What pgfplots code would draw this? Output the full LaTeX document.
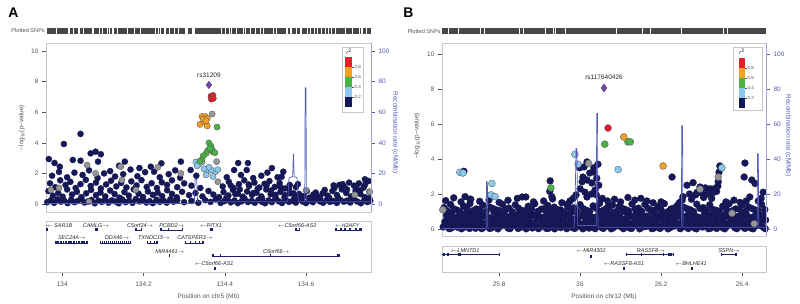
\documentclass[border=0pt]{standalone}
\usepackage{pgfplots}
\pgfplotsset{compat=1.18}
\usepackage{pgfplotstable}
\usepackage{fontspec}
\setmainfont{Liberation Sans}
\setsansfont{Liberation Sans}

\definecolor{navy}{RGB}{22,24,88}
\definecolor{lzred}{RGB}{226,32,38}
\definecolor{lzorange}{RGB}{244,160,36}
\definecolor{lzgreen}{RGB}{72,178,66}
\definecolor{lzblue}{RGB}{138,200,238}
\definecolor{lzpurple}{RGB}{112,72,160}
\definecolor{lzgray}{RGB}{150,150,150}
\definecolor{recomb}{RGB}{84,90,182}
\definecolor{framegray}{RGB}{200,200,200}
\definecolor{textgray}{RGB}{85,85,85}
\definecolor{genec}{RGB}{30,32,110}
\newcommand{\la}{$\leftarrow$}
\newcommand{\ra}{$\rightarrow$}

% ---------------- Panel A data ----------------
\pgfplotstableread[row sep=\\]{x y\\
133.963 0.12\\ 133.972 0.25\\ 133.980 0.08\\ 133.988 0.30\\ 133.997 0.15\\ 134.005 0.22\\ 134.013 0.06\\ 134.022 0.28\\ 134.030 0.12\\ 134.038 0.20\\
134.047 0.33\\ 134.055 0.10\\ 134.064 0.18\\ 134.072 0.27\\ 134.080 0.05\\ 134.089 0.22\\ 134.097 0.14\\ 134.106 0.31\\ 134.114 0.09\\ 134.122 0.24\\
134.131 0.16\\ 134.139 0.05\\ 134.148 0.29\\ 134.156 0.12\\ 134.165 0.21\\ 134.173 0.08\\ 134.181 0.33\\ 134.190 0.17\\ 134.198 0.26\\ 134.207 0.10\\
134.215 0.19\\ 134.223 0.06\\ 134.232 0.28\\ 134.240 0.14\\ 134.249 0.22\\ 134.257 0.09\\ 134.266 0.31\\ 134.274 0.15\\ 134.283 0.24\\ 134.300 0.12\\
134.318 0.20\\ 134.335 0.08\\ 134.352 0.25\\ 134.365 0.14\\ 134.378 0.30\\ 134.390 0.07\\ 134.399 0.19\\ 134.407 0.28\\ 134.415 0.11\\ 134.424 0.23\\
134.432 0.06\\ 134.441 0.17\\ 134.449 0.30\\ 134.457 0.13\\ 134.466 0.21\\ 134.474 0.08\\ 134.483 0.27\\ 134.491 0.15\\ 134.499 0.05\\ 134.508 0.24\\
134.516 0.12\\ 134.525 0.32\\ 134.533 0.18\\ 134.541 0.07\\ 134.550 0.26\\ 134.558 0.14\\ 134.567 0.21\\ 134.575 0.09\\ 134.583 0.29\\ 134.592 0.16\\
134.600 0.06\\ 134.609 0.23\\ 134.617 0.12\\ 134.625 0.31\\ 134.634 0.18\\ 134.642 0.08\\ 134.651 0.25\\ 134.659 0.14\\ 134.667 0.20\\ 134.676 0.07\\
134.684 0.28\\ 134.693 0.15\\ 134.701 0.22\\ 134.709 0.10\\ 134.718 0.30\\ 134.726 0.17\\ 134.735 0.05\\ 134.743 0.24\\ 134.751 0.13\\ 134.758 0.21\\
133.966 0.85\\ 133.977 0.55\\ 133.990 0.72\\ 134.001 0.48\\ 134.012 0.95\\ 134.024 0.62\\ 134.036 0.80\\ 134.047 0.45\\ 134.059 0.70\\ 134.071 0.92\\
134.083 0.58\\ 134.094 0.75\\ 134.106 0.50\\ 134.118 0.88\\ 134.129 0.65\\ 134.141 0.42\\ 134.153 0.78\\ 134.164 0.55\\ 134.176 0.96\\ 134.188 0.68\\
134.199 0.46\\ 134.211 0.82\\ 134.223 0.60\\ 134.235 0.74\\ 134.246 0.52\\ 134.258 0.90\\ 134.270 0.66\\ 134.282 0.44\\ 134.295 0.80\\ 134.312 0.58\\
134.328 0.72\\ 134.345 0.50\\ 134.360 0.85\\ 134.372 0.62\\ 134.386 0.45\\ 134.397 0.78\\ 134.409 0.56\\ 134.420 0.92\\ 134.432 0.68\\ 134.444 0.48\\
134.455 0.82\\ 134.467 0.60\\ 134.478 0.74\\ 134.490 0.50\\ 134.502 0.95\\ 134.513 0.64\\ 134.525 0.42\\ 134.537 0.80\\ 134.548 0.58\\ 134.560 0.70\\
134.572 0.46\\ 134.583 0.66\\ 134.595 0.52\\ 134.607 0.40\\ 134.618 0.62\\ 134.630 0.48\\ 134.641 0.70\\ 134.653 0.55\\ 134.665 0.85\\ 134.676 0.60\\
134.688 0.95\\ 134.699 0.72\\ 134.711 0.50\\ 134.722 0.88\\ 134.734 0.65\\ 134.745 0.45\\ 134.756 0.80\\
133.970 1.35\\ 133.983 1.10\\ 133.995 1.55\\ 134.008 1.25\\ 134.020 1.45\\ 134.033 1.05\\ 134.045 1.30\\ 134.058 1.58\\ 134.070 1.18\\ 134.083 1.40\\
134.095 1.02\\ 134.108 1.28\\ 134.120 1.52\\ 134.133 1.15\\ 134.145 1.38\\ 134.158 1.08\\ 134.170 1.48\\ 134.183 1.22\\ 134.195 1.56\\ 134.208 1.12\\
134.220 1.36\\ 134.233 1.05\\ 134.245 1.42\\ 134.258 1.25\\ 134.270 1.55\\ 134.283 1.10\\ 134.300 1.35\\ 134.318 1.20\\ 134.340 1.05\\ 134.395 1.15\\
134.410 1.45\\ 134.422 1.05\\ 134.435 1.30\\ 134.448 1.55\\ 134.460 1.18\\ 134.473 1.40\\ 134.485 1.08\\ 134.498 1.32\\ 134.510 1.50\\ 134.523 1.12\\
134.535 1.38\\ 134.548 1.02\\ 134.560 1.25\\ 134.575 1.10\\ 134.670 1.05\\ 134.682 1.25\\ 134.694 1.12\\ 134.706 1.40\\ 134.718 1.20\\ 134.730 1.35\\
134.742 1.08\\ 134.754 1.50\\
133.975 1.85\\ 133.992 2.10\\ 134.012 1.75\\ 134.030 2.05\\ 134.050 1.90\\ 134.066 2.20\\ 134.087 1.70\\ 134.103 2.00\\ 134.118 2.15\\ 134.130 1.80\\
134.150 1.95\\ 134.168 2.25\\ 134.185 1.82\\ 134.204 2.08\\ 134.226 2.11\\ 134.240 1.75\\ 134.262 1.95\\ 134.278 2.20\\ 134.290 1.72\\ 134.316 2.22\\
134.330 1.85\\ 134.405 1.75\\ 134.423 2.22\\ 134.440 1.90\\ 134.454 2.22\\ 134.470 1.70\\ 134.490 1.85\\ 134.505 2.05\\ 134.516 2.35\\ 134.530 1.75\\
134.544 2.11\\ 134.540 1.78\\ 134.745 1.62\\
134.045 4.58\\ 134.004 3.92\\ 133.967 2.94\\ 134.070 3.31\\ 134.082 3.42\\ 134.095 3.25\\ 133.994 2.44\\ 133.981 2.68\\ 134.026 2.88\\ 134.045 2.83\\
134.088 2.77\\ 134.154 2.77\\ 134.218 2.44\\ 134.244 2.66\\ 134.292 2.77\\ 134.433 2.68\\ 134.457 2.68\\ 134.140 2.50\\ 134.190 2.35\\
134.404 0.40\\ 134.415 1.20\\ 134.426 0.65\\ 134.437 0.95\\ 134.448 0.38\\ 134.459 1.28\\ 134.470 0.72\\ 134.481 1.00\\ 134.492 0.35\\ 134.503 1.22\\
134.514 0.88\\ 134.525 0.60\\ 134.536 1.15\\ 134.547 0.42\\ 134.558 0.98\\ 134.569 0.70\\ 134.580 1.30\\ 134.591 0.38\\ 134.602 0.85\\ 134.613 0.45\\
134.624 0.75\\ 134.635 0.36\\ 134.646 0.92\\ 134.657 0.42\\ 134.668 1.22\\ 134.679 0.40\\ 134.690 1.30\\ 134.701 0.95\\ 134.712 0.38\\ 134.723 1.15\\
134.734 0.90\\ 134.745 1.25\\ 134.756 0.38\\
}\Anavy
\pgfplotstableread[row sep=\\]{x y\\
133.972 0.92\\ 133.992 1.05\\ 134.061 2.55\\ 134.066 0.15\\ 134.082 2.00\\ 134.144 2.44\\ 134.147 1.57\\ 134.181 0.92\\ 134.292 2.00\\ 134.383 1.46\\
134.380 2.77\\ 134.369 5.88\\ 134.235 2.40\\ 134.600 0.90\\ 134.720 0.60\\ 134.757 0.80\\
}\Agray
\pgfplotstableread[row sep=\\]{x y\\
134.329 2.75\\ 134.344 2.75\\ 134.336 2.60\\ 134.357 2.10\\ 134.354 1.90\\ 134.376 2.10\\ 134.366 2.25\\ 134.332 2.50\\ 134.361 2.40\\ 134.371 1.80\\
134.349 2.30\\ 134.383 2.25\\
}\Ablue
\pgfplotstableread[row sep=\\]{x y\\
134.381 5.03\\ 134.361 4.00\\ 134.366 3.80\\ 134.358 3.50\\ 134.371 3.40\\ 134.354 3.30\\ 134.347 3.15\\ 134.369 3.55\\ 134.376 3.35\\ 134.344 2.90\\
134.339 2.80\\ 134.364 3.65\\
}\Agreen
\pgfplotstableread[row sep=\\]{x y\\
134.344 5.72\\ 134.352 5.72\\ 134.357 5.60\\ 134.339 5.20\\ 134.349 5.38\\ 134.357 5.10\\ 134.347 5.55\\ 134.354 5.45\\
}\Aorange
\pgfplotstableread[row sep=\\]{x y\\
134.366 7.05\\ 134.369 6.95\\ 134.371 7.10\\ 134.367 6.85\\ 134.372 6.90\\
}\Ared

% ---------------- Panel B data ----------------
\pgfplotstableread[row sep=\\]{x y\\
25.662 .12\\ 25.672 .22\\ 25.682 .06\\ 25.692 .18\\ 25.702 .25\\ 25.712 .09\\ 25.722 .15\\ 25.732 .20\\ 25.742 .04\\ 25.752 .17\\
25.762 .10\\ 25.772 .24\\ 25.782 .07\\ 25.792 .19\\ 25.802 .13\\ 25.812 .23\\ 25.822 .05\\ 25.832 .16\\ 25.842 .21\\ 25.852 .09\\
25.862 .14\\ 25.872 .25\\ 25.882 .06\\ 25.892 .18\\ 25.902 .11\\ 25.912 .22\\ 25.922 .04\\ 25.932 .17\\ 25.942 .20\\ 25.952 .08\\
25.962 .15\\ 25.972 .24\\ 25.982 .07\\ 25.992 .19\\ 26.002 .12\\ 26.012 .23\\ 26.022 .05\\ 26.032 .16\\ 26.042 .21\\ 26.052 .10\\
26.062 .13\\ 26.072 .25\\ 26.082 .08\\ 26.092 .18\\ 26.102 .11\\ 26.112 .22\\ 26.122 .06\\ 26.132 .17\\ 26.142 .20\\ 26.152 .09\\
26.162 .14\\ 26.172 .24\\ 26.182 .05\\ 26.192 .19\\ 26.202 .12\\ 26.212 .23\\ 26.222 .07\\ 26.232 .16\\ 26.242 .21\\ 26.252 .10\\
26.262 .15\\ 26.272 .25\\ 26.282 .06\\ 26.292 .18\\ 26.302 .11\\ 26.312 .22\\ 26.322 .04\\ 26.332 .17\\ 26.342 .20\\ 26.352 .08\\
26.362 .14\\ 26.372 .24\\ 26.382 .07\\ 26.392 .19\\ 26.402 .12\\ 26.412 .23\\ 26.422 .05\\ 26.432 .16\\ 26.442 .21\\ 26.452 .10\\
25.666 .42\\ 25.678 .55\\ 25.690 .33\\ 25.702 .48\\ 25.714 .60\\ 25.726 .37\\ 25.738 .51\\ 25.750 .45\\ 25.762 .31\\ 25.774 .58\\
25.786 .40\\ 25.798 .53\\ 25.810 .35\\ 25.822 .47\\ 25.834 .59\\ 25.846 .38\\ 25.858 .50\\ 25.870 .44\\ 25.882 .32\\ 25.894 .56\\
25.906 .41\\ 25.918 .54\\ 25.930 .34\\ 25.942 .49\\ 25.954 .60\\ 25.966 .36\\ 25.978 .52\\ 25.990 .43\\ 26.002 .30\\ 26.014 .57\\
26.026 .42\\ 26.038 .55\\ 26.050 .33\\ 26.062 .48\\ 26.074 .60\\ 26.086 .37\\ 26.098 .51\\ 26.110 .45\\ 26.122 .31\\ 26.134 .58\\
26.146 .40\\ 26.158 .53\\ 26.170 .35\\ 26.182 .47\\ 26.194 .59\\ 26.206 .38\\ 26.218 .50\\ 26.230 .44\\ 26.242 .32\\ 26.254 .56\\
26.266 .41\\ 26.278 .54\\ 26.290 .34\\ 26.302 .49\\ 26.314 .60\\ 26.326 .36\\ 26.338 .52\\ 26.350 .43\\ 26.362 .30\\ 26.374 .57\\
26.386 .42\\ 26.398 .55\\ 26.410 .33\\ 26.422 .48\\ 26.434 .60\\ 26.446 .37\\ 26.458 .51\\
25.670 .78\\ 25.683 .92\\ 25.696 .68\\ 25.709 .85\\ 25.722 .99\\ 25.735 .72\\ 25.748 .88\\ 25.761 .81\\ 25.774 .66\\ 25.787 .95\\
25.800 .75\\ 25.813 .90\\ 25.826 .70\\ 25.839 .83\\ 25.852 .97\\ 25.865 .73\\ 25.878 .87\\ 25.891 .80\\ 25.904 .67\\ 25.917 .94\\
25.930 .77\\ 25.943 .91\\ 25.956 .69\\ 25.969 .84\\ 25.982 .98\\ 25.995 .71\\ 26.008 .89\\ 26.021 .82\\ 26.034 .65\\ 26.047 .96\\
26.060 .76\\ 26.073 .93\\ 26.086 .68\\ 26.099 .86\\ 26.112 .99\\ 26.125 .74\\ 26.138 .88\\ 26.151 .79\\ 26.164 .66\\ 26.177 .95\\
26.190 .78\\ 26.203 .90\\ 26.216 .70\\ 26.229 .85\\ 26.242 .97\\ 26.255 .72\\ 26.268 .87\\ 26.281 .81\\ 26.294 .67\\ 26.307 .94\\
26.320 .77\\ 26.333 .92\\ 26.346 .69\\ 26.359 .84\\ 26.372 .98\\ 26.385 .71\\ 26.398 .89\\ 26.411 .82\\ 26.424 .65\\ 26.437 .96\\
26.450 .76\\
25.664 1.22\\ 25.680 1.40\\ 25.696 1.08\\ 25.712 1.31\\ 25.728 1.45\\ 25.744 1.15\\ 25.760 1.36\\ 25.776 1.26\\ 25.792 1.10\\ 25.808 1.42\\
25.824 1.20\\ 25.840 1.38\\ 25.856 1.06\\ 25.872 1.30\\ 25.888 1.44\\ 25.904 1.13\\ 25.920 1.35\\ 25.936 1.25\\ 25.952 1.09\\ 25.968 1.41\\
25.984 1.21\\ 26.000 1.39\\ 26.016 1.07\\ 26.032 1.32\\ 26.048 1.46\\ 26.064 1.16\\ 26.080 1.37\\ 26.096 1.27\\ 26.112 1.11\\ 26.128 1.43\\
26.144 1.19\\ 26.160 1.40\\ 26.176 1.08\\ 26.192 1.29\\ 26.208 1.45\\ 26.224 1.14\\ 26.240 1.34\\ 26.256 1.24\\ 26.272 1.10\\ 26.288 1.42\\
26.304 1.22\\ 26.320 1.38\\ 26.336 1.07\\ 26.352 1.30\\ 26.368 1.44\\ 26.384 1.15\\ 26.400 1.36\\ 26.416 1.26\\ 26.432 1.09\\ 26.448 1.41\\
25.668 1.62\\ 25.688 1.78\\ 25.706 1.55\\ 25.730 1.70\\ 25.752 1.58\\ 25.775 1.66\\ 25.800 1.52\\ 25.822 1.64\\ 25.845 1.75\\ 25.866 1.83\\
25.885 1.55\\ 25.910 1.60\\ 25.932 1.72\\ 25.955 1.50\\ 25.975 1.60\\ 26.055 1.75\\ 26.068 1.60\\ 26.085 1.70\\ 26.100 1.55\\ 26.118 1.80\\
26.135 1.65\\ 26.150 1.75\\ 26.165 1.60\\ 26.180 1.50\\ 26.200 1.55\\ 26.360 1.55\\ 26.380 1.65\\ 26.395 1.52\\ 26.410 1.60\\ 26.440 1.60\\
25.713 3.30\\ 25.716 1.85\\ 25.728 1.70\\ 25.857 1.83\\ 25.926 2.75\\ 25.925 2.15\\ 25.930 1.85\\
26.017 3.83\\ 26.010 3.55\\ 25.999 3.50\\ 26.034 3.50\\ 26.034 3.26\\ 26.044 3.70\\ 26.007 2.97\\ 26.017 2.80\\ 26.005 2.70\\ 26.029 2.63\\
26.037 2.23\\ 26.017 1.83\\ 26.024 3.20\\ 26.041 2.90\\ 26.046 2.50\\ 26.000 2.30\\ 26.012 2.10\\ 26.028 2.00\\ 26.040 1.95\\ 25.990 1.95\\
25.983 1.75\\ 26.052 1.70\\ 25.970 1.26\\ 26.069 1.26\\ 26.067 1.10\\
26.227 2.97\\ 26.407 3.77\\ 26.405 2.97\\ 26.424 2.80\\ 26.432 2.60\\ 26.419 1.83\\ 26.452 2.10\\ 26.447 1.75\\
26.345 3.60\\ 26.343 3.25\\ 26.341 2.70\\ 26.340 2.45\\ 26.337 2.15\\
26.264 2.50\\ 26.279 2.65\\ 26.289 2.10\\ 26.296 2.40\\ 26.309 2.35\\ 26.321 2.30\\ 26.333 2.32\\ 26.254 1.85\\ 26.252 1.65\\ 26.270 2.00\\
26.285 1.95\\ 26.300 2.05\\ 26.315 2.00\\ 26.330 2.10\\ 26.325 1.75\\ 26.305 1.80\\ 26.275 1.70\\ 26.245 1.50\\
25.667 .30\\ 25.677 .02\\ 25.687 .33\\ 25.697 .10\\ 25.707 .01\\ 25.717 .31\\ 25.727 .03\\ 25.737 .34\\ 25.747 .27\\ 25.757 .02\\
25.767 .32\\ 25.777 .03\\ 25.787 .29\\ 25.797 .01\\ 25.807 .35\\ 25.817 .30\\ 25.827 .02\\ 25.837 .33\\ 25.847 .03\\ 25.857 .29\\
25.867 .01\\ 25.877 .34\\ 25.887 .31\\ 25.897 .02\\ 25.907 .33\\ 25.917 .03\\ 25.927 .30\\ 25.937 .01\\ 25.947 .35\\ 25.957 .28\\
25.967 .02\\ 25.977 .33\\ 25.987 .03\\ 25.997 .31\\ 26.007 .01\\ 26.017 .34\\ 26.027 .30\\ 26.037 .02\\ 26.047 .33\\ 26.057 .03\\
26.067 .29\\ 26.077 .01\\ 26.087 .35\\ 26.097 .31\\ 26.107 .02\\ 26.117 .33\\ 26.127 .03\\ 26.137 .30\\ 26.147 .01\\ 26.157 .34\\
26.167 .28\\ 26.177 .02\\ 26.187 .33\\ 26.197 .03\\ 26.207 .31\\ 26.217 .01\\ 26.227 .35\\ 26.237 .30\\ 26.247 .02\\ 26.257 .33\\
26.267 .03\\ 26.277 .29\\ 26.287 .01\\ 26.297 .34\\ 26.307 .31\\ 26.317 .02\\ 26.327 .33\\ 26.337 .03\\ 26.347 .30\\ 26.357 .01\\
26.367 .35\\ 26.377 .28\\ 26.387 .02\\ 26.397 .33\\ 26.407 .03\\ 26.417 .31\\ 26.427 .01\\ 26.437 .34\\ 26.447 .30\\ 26.457 .02\\
25.672 .66\\ 25.684 .74\\ 25.696 .58\\ 25.708 .70\\ 25.720 .62\\ 25.732 .76\\ 25.744 .56\\ 25.756 .68\\ 25.768 .72\\ 25.780 .60\\
25.792 .66\\ 25.804 .74\\ 25.816 .58\\ 25.828 .70\\ 25.840 .62\\ 25.852 .76\\ 25.864 .56\\ 25.876 .68\\ 25.888 .72\\ 25.900 .60\\
25.912 .66\\ 25.924 .74\\ 25.936 .58\\ 25.948 .70\\ 25.960 .62\\ 25.972 .76\\ 25.984 .56\\ 25.996 .68\\ 26.008 .72\\ 26.020 .60\\
26.032 .66\\ 26.044 .74\\ 26.056 .58\\ 26.068 .70\\ 26.080 .62\\ 26.092 .76\\ 26.104 .56\\ 26.116 .68\\ 26.128 .72\\ 26.140 .60\\
26.152 .66\\ 26.164 .74\\ 26.176 .58\\ 26.188 .70\\ 26.200 .62\\ 26.212 .76\\ 26.224 .56\\ 26.236 .68\\ 26.248 .72\\ 26.260 .60\\
26.272 .66\\ 26.284 .74\\ 26.296 .58\\ 26.308 .70\\ 26.320 .62\\ 26.332 .76\\ 26.344 .56\\ 26.356 .68\\ 26.368 .72\\ 26.380 .60\\
26.392 .66\\ 26.404 .74\\ 26.416 .58\\ 26.428 .70\\ 26.440 .62\\ 26.452 .76\\
25.672 1.02\\ 25.688 1.15\\ 25.704 0.98\\ 25.720 1.20\\ 25.736 1.05\\ 25.752 1.12\\ 25.768 1.00\\ 25.784 1.18\\ 25.800 1.06\\ 25.816 1.14\\
25.832 0.99\\ 25.848 1.19\\ 25.864 1.04\\ 25.880 1.13\\ 25.896 1.01\\ 25.912 1.17\\ 25.928 1.07\\ 25.944 1.11\\ 25.960 0.98\\ 25.976 1.20\\
25.992 1.03\\ 26.008 1.16\\ 26.024 1.00\\ 26.040 1.18\\ 26.056 1.05\\ 26.072 1.12\\ 26.088 0.99\\ 26.104 1.19\\ 26.120 1.04\\ 26.136 1.14\\
26.152 1.01\\ 26.168 1.17\\ 26.184 1.06\\ 26.200 1.11\\ 26.216 0.98\\ 26.232 1.20\\ 26.248 1.03\\ 26.264 1.16\\ 26.280 1.00\\ 26.296 1.18\\
26.312 1.05\\ 26.328 1.12\\ 26.344 0.99\\ 26.360 1.19\\ 26.376 1.04\\ 26.392 1.14\\ 26.408 1.01\\ 26.424 1.17\\ 26.440 1.06\\ 26.456 1.11\\
}\Bnavy
\pgfplotstableread[row sep=\\]{x y\\
25.661 1.10\\ 26.296 2.28\\ 26.341 2.97\\ 26.375 0.90\\ 26.021 3.75\\ 26.430 0.30\\
}\Bgray
\pgfplotstableread[row sep=\\]{x y\\
25.703 3.24\\ 25.711 3.20\\ 25.782 2.60\\ 25.780 1.95\\ 25.790 1.85\\ 25.987 4.27\\ 25.995 3.70\\ 26.094 3.40\\ 26.350 3.50\\
}\Bblue
\pgfplotstableread[row sep=\\]{x y\\
25.928 2.35\\ 26.061 4.85\\ 26.118 4.98\\ 26.124 4.98\\
}\Bgreen
\pgfplotstableread[row sep=\\]{x y\\
26.108 5.26\\ 26.205 3.60\\
}\Borange
\pgfplotstableread[row sep=\\]{x y\\
26.069 5.77\\
}\Bred

\pgfplotsset{
 lzbase/.style={anchor=south west, scale only axis, axis line style={framegray,line width=0.6pt},
   tick align=outside, major tick length=4pt, tick style={textgray,line width=0.5pt},
   tick label style={font=\fontsize{6.5}{7}\selectfont, text=textgray},
   label style={font=\fontsize{6.5}{7}\selectfont, text=textgray},
   /pgf/number format/assume math mode=true},
 navyp/.style={only marks, mark=*, mark size=#1, mark options={fill=navy, draw=navy!80!black, line width=0.2pt}},
 colp/.style 2 args={only marks, mark=*, mark size=#2, mark options={fill=#1, draw=black!65, line width=0.35pt}},
 rug/.style={only marks, mark=|, mark size=3pt, mark options={draw=black!72, line width=1.3pt}, forget plot},
 gene/.style={genec, line width=0.5pt, forget plot},
 exon/.style={only marks, mark=|, mark size=1.5pt, mark options={draw=genec, line width=1.1pt}, forget plot},
}
\tikzset{glab/.style={font=\fontsize{5.5}{6}\selectfont\itshape, text=black!85, anchor=center, inner sep=0pt}}

\begin{document}
\begin{tikzpicture}
\path[use as bounding box] (0pt,0pt) rectangle (800pt,304pt);

% ================= PANEL A =================
\node[font=\fontsize{14}{14}\selectfont\bfseries] at (13.5pt,291pt) {A};
\node[anchor=east, font=\fontsize{5.6}{6}\selectfont, text=textgray, inner sep=0pt] at (45pt,273pt) {Plotted SNPs};

\begin{axis}[at={(46pt,270pt)}, anchor=south west, scale only axis, width=325pt, height=6pt,
  xmin=133.96, xmax=134.76, ymin=0, ymax=1, hide axis]
\addplot[rug] table[x=x, y expr=0.5] {\Anavy};
\addplot[rug] table[x=x, y expr=0.5] {\Agray};
\addplot[rug] table[x=x, y expr=0.5] {\Ablue};
\addplot[rug] table[x=x, y expr=0.5] {\Agreen};
\addplot[rug] table[x=x, y expr=0.5] {\Aorange};
\addplot[rug] table[x=x, y expr=0.5] {\Ared};
\end{axis}

\begin{axis}[lzbase, at={(46pt,92pt)}, width=325pt, height=169pt,
  xmin=133.96, xmax=134.76, ymin=-0.52, ymax=10.52,
  xtick=\empty, ytick={0,2,4,6,8,10}, ytick pos=left,
  ylabel={−log\textsubscript{10}(p−value)},
  ylabel style={at={(axis description cs:-0.075,0.5)}, anchor=center}]
\addplot[navyp=3.1pt] table {\Anavy};
\addplot[colp={lzgray}{3.1pt}] table {\Agray};
\addplot[colp={lzblue}{3.1pt}] table {\Ablue};
\addplot[colp={lzgreen}{3.1pt}] table {\Agreen};
\addplot[colp={lzorange}{3.1pt}] table {\Aorange};
\addplot[colp={lzred}{3.1pt}] table {\Ared};
\addplot[only marks, mark=diamond*, mark size=3.8pt, mark options={fill=lzpurple, draw=lzpurple!70!black, line width=0.3pt}] coordinates {(134.361,7.78)};
\node[font=\fontsize{6.5}{7}\selectfont, text=black!85] at (axis cs:134.361,8.42) {rs31209};
\end{axis}

\begin{axis}[lzbase, at={(46pt,92pt)}, width=325pt, height=169pt,
  xmin=133.96, xmax=134.76, ymin=-5.2, ymax=105.2,
  axis x line=none, axis y line*=right, axis line style={recomb!55, line width=0.6pt},
  ytick={0,20,40,60,80,100}, tick style={recomb}, yticklabel style={text=recomb},
  ylabel={Recombination rate (cM/Mb)},
  ylabel style={text=recomb, at={(axis description cs:1.074,0.47)}, anchor=center, rotate=180}]
\addplot[recomb, line width=0.7pt] coordinates {(133.960,0.4) (134.325,0.4) (134.327,16) (134.331,16) (134.333,1.5) (134.555,1.5) (134.558,17) (134.567,18) (134.569,33) (134.571,18) (134.578,17) (134.581,1.5) (134.597,1.5) (134.598,76) (134.600,76) (134.601,1.5) (134.760,1.5)};
\end{axis}

\begin{axis}[lzbase, at={(46pt,32pt)}, width=325pt, height=51pt,
  xmin=133.96, xmax=134.76, ymin=0, ymax=51, ytick=\empty,
  xtick={134,134.2,134.4,134.6}, xticklabels={134,134.2,134.4,134.6}, xtick pos=bottom,
  xticklabel style={yshift=-2.5pt},
  xlabel={Position on chr5 (Mb)}, clip=false]
% row 1
\addplot[gene] coordinates {(133.960,42) (133.965,42)};
\addplot[gene] coordinates {(134.081,42) (134.088,42)};
\addplot[gene] coordinates {(134.179,42) (134.196,42)};
\addplot[gene] coordinates {(134.241,42) (134.297,42)};
\addplot[gene] coordinates {(134.364,42) (134.371,42)};
\addplot[gene] coordinates {(134.573,42) (134.586,42)};
\addplot[gene] coordinates {(134.672,42) (134.738,42)};
\addplot[exon] coordinates {(133.961,42) (133.963,42) (134.082,42) (134.084,42) (134.087,42) (134.181,42) (134.183,42) (134.194,42) (134.242,42) (134.244,42) (134.262,42) (134.295,42) (134.296,42)
 (134.365,42) (134.367,42) (134.369,42) (134.370,42) (134.574,42) (134.576,42) (134.584,42) (134.585,42)
 (134.673,42) (134.675,42) (134.685,42) (134.687,42) (134.696,42) (134.698,42) (134.707,42) (134.709,42) (134.721,42) (134.723,42) (134.733,42) (134.735,42) (134.737,42)};
% row 2
\addplot[gene] coordinates {(133.982,29) (134.063,29)};
\addplot[gene] coordinates {(134.093,29) (134.169,29)};
\addplot[gene] coordinates {(134.209,29) (134.236,29)};
\addplot[gene] coordinates {(134.302,29) (134.349,29)};
\addplot[exon] coordinates {(133.983,29) (133.987,29) (133.991,29) (133.995,29) (133.999,29) (134.003,29) (134.007,29) (134.011,29) (134.015,29) (134.019,29) (134.023,29) (134.027,29) (134.031,29) (134.035,29) (134.039,29) (134.043,29) (134.047,29) (134.051,29) (134.055,29) (134.059,29) (134.062,29)
 (134.094,29) (134.099,29) (134.104,29) (134.109,29) (134.114,29) (134.119,29) (134.124,29) (134.129,29) (134.134,29) (134.139,29) (134.144,29) (134.149,29) (134.154,29) (134.159,29) (134.164,29) (134.168,29)
 (134.210,29) (134.218,29) (134.226,29) (134.233,29) (134.235,29)
 (134.303,29) (134.315,29) (134.327,29) (134.338,29) (134.346,29) (134.348,29)};
% row 3
\addplot[gene] coordinates {(134.369,16) (134.684,16)};
\addplot[exon] coordinates {(134.263,16) (134.370,16) (134.372,16) (134.389,16) (134.513,16) (134.677,16) (134.681,16) (134.683,16)};
% row 4
\addplot[exon] coordinates {(134.376,3) (134.377,3)};
\node[glab] at (axis cs:133.993,46.5) {\la\,SAR1B};
\node[glab] at (axis cs:134.083,46.5) {CAMLG\ra};
\node[glab] at (axis cs:134.192,46.5) {C5orf24\ra};
\node[glab] at (axis cs:134.270,46.5) {PCBD2\ra};
\node[glab] at (axis cs:134.366,46.5) {\la PITX1};
\node[glab] at (axis cs:134.578,46.5) {\la C5orf66-AS2};
\node[glab] at (axis cs:134.701,46.5) {\la H2AFY};
\node[glab] at (axis cs:134.024,34) {SEC24A\ra};
\node[glab] at (axis cs:134.135,34) {DDX46\ra};
\node[glab] at (axis cs:134.226,34) {TXNDC15\ra};
\node[glab] at (axis cs:134.327,34) {CATSPER3\ra};
\node[glab] at (axis cs:134.265,20.5) {MIR4461\ra};
\node[glab] at (axis cs:134.527,20.5) {C5orf66\ra};
\node[glab] at (axis cs:134.374,8) {\la C5orf66-AS1};
\end{axis}

% legend A
\draw[framegray, fill=white, line width=0.5pt] (342pt,192pt) rectangle (363pt,257pt);
\fill[lzred] (345pt,237pt) rectangle (352pt,247pt);
\fill[lzorange] (345pt,227pt) rectangle (352pt,237pt);
\fill[lzgreen] (345pt,217pt) rectangle (352pt,227pt);
\fill[lzblue] (345pt,207pt) rectangle (352pt,217pt);
\fill[navy] (345pt,197pt) rectangle (352pt,207pt);
\foreach \yy/\lab in {237/0.8,227/0.6,217/0.4,207/0.2}{
  \draw[textgray, line width=0.3pt] (352pt,\yy pt) -- (354pt,\yy pt);
  \node[anchor=west, font=\fontsize{4.5}{5}\selectfont, text=textgray, inner sep=0.5pt] at (354pt,\yy pt) {\lab};}
\node[font=\fontsize{5}{5}\selectfont] at (349pt,252pt) {\textit{r}\textsuperscript{2}};

% ================= PANEL B =================
\node[font=\fontsize{14}{14}\selectfont\bfseries] at (408.5pt,291.5pt) {B};
\node[anchor=east, font=\fontsize{5.6}{6}\selectfont, text=textgray, inner sep=0pt] at (441pt,272.5pt) {Plotted SNPs};

\begin{axis}[at={(442pt,269.5pt)}, anchor=south west, scale only axis, width=324pt, height=6pt,
  xmin=25.659, xmax=26.459, ymin=0, ymax=1, hide axis]
\addplot[rug] table[x=x, y expr=0.5] {\Bnavy};
\addplot[rug] table[x=x, y expr=0.5] {\Bgray};
\addplot[rug] table[x=x, y expr=0.5] {\Bblue};
\addplot[rug] table[x=x, y expr=0.5] {\Bgreen};
\addplot[rug] table[x=x, y expr=0.5] {\Borange};
\addplot[rug] table[x=x, y expr=0.5] {\Bred};
\end{axis}

\begin{axis}[lzbase, at={(442pt,68pt)}, width=324pt, height=193pt,
  xmin=25.659, xmax=26.459, ymin=-0.4, ymax=10.63,
  xtick=\empty, ytick={0,2,4,6,8,10}, ytick pos=left,
  ylabel={−log\textsubscript{10}(p−value)},
  ylabel style={at={(axis description cs:-0.077,0.52)}, anchor=center}]
\addplot[navyp=3.5pt] table {\Bnavy};
\addplot[colp={lzgray}{3.5pt}] table {\Bgray};
\addplot[colp={lzblue}{3.5pt}] table {\Bblue};
\addplot[colp={lzgreen}{3.5pt}] table {\Bgreen};
\addplot[colp={lzorange}{3.5pt}] table {\Borange};
\addplot[colp={lzred}{3.5pt}] table {\Bred};
\addplot[only marks, mark=diamond*, mark size=4pt, mark options={fill=lzpurple, draw=lzpurple!70!black, line width=0.3pt}] coordinates {(26.059,8.06)};
\node[font=\fontsize{6.5}{7}\selectfont, text=black!85] at (axis cs:26.059,8.65) {rs117640426};
\end{axis}

\begin{axis}[lzbase, at={(442pt,68pt)}, width=324pt, height=193pt,
  xmin=25.659, xmax=26.459, ymin=-4, ymax=106.3,
  axis x line=none, axis y line*=right, axis line style={recomb!55, line width=0.6pt},
  ytick={0,20,40,60,80,100}, tick style={recomb}, yticklabel style={text=recomb},
  ylabel={Recombination rate (cM/Mb)},
  ylabel style={text=recomb, at={(axis description cs:1.068,0.52)}, anchor=center, rotate=180}]
\addplot[recomb, line width=0.7pt] coordinates {(25.659,0.3) (25.768,0.3) (25.769,27) (25.771,27) (25.772,0.5) (25.985,0.5) (25.987,8) (25.990,46) (25.992,46) (25.994,2) (26.040,2) (26.041,66) (26.043,66) (26.044,1) (26.250,1) (26.251,59) (26.253,59) (26.254,1) (26.437,1) (26.438,43) (26.440,43) (26.441,1) (26.459,1)};
\end{axis}

\begin{axis}[lzbase, at={(442pt,32pt)}, width=324pt, height=26pt,
  xmin=25.659, xmax=26.459, ymin=0, ymax=26, ytick=\empty,
  xtick={25.8,26,26.2,26.4}, xticklabels={25.8,26,26.2,26.4}, xtick pos=bottom,
  xticklabel style={yshift=-2.5pt},
  xlabel={Position on chr12 (Mb)}, clip=false]
\addplot[gene] coordinates {(25.659,17.7) (25.802,17.7)};
\addplot[gene] coordinates {(26.113,17.7) (26.232,17.7)};
\addplot[gene] coordinates {(26.348,17.7) (26.387,17.7)};
\addplot[exon] coordinates {(25.662,17.7) (25.664,17.7) (25.673,17.7) (25.675,17.7) (25.701,17.7) (25.703,17.7) (25.705,17.7) (25.801,17.7)
 (26.027,15.5) (26.114,17.7) (26.151,17.7) (26.206,17.7) (26.219,17.7) (26.221,17.7) (26.223,17.7) (26.225,17.7) (26.231,17.7)
 (26.349,17.7) (26.384,17.7) (26.386,17.7)
 (26.108,3.7) (26.109,3.7) (26.274,3.7) (26.276,3.7) (26.277,3.7)};
\node[glab] at (axis cs:25.716,21.5) {\la LMNTD1};
\node[glab] at (axis cs:26.027,21.5) {\la MIR4302};
\node[glab] at (axis cs:26.175,21.5) {RASSF8\ra};
\node[glab] at (axis cs:26.368,21.5) {SSPN\ra};
\node[glab] at (axis cs:26.108,8) {\la RASSF8-AS1};
\node[glab] at (axis cs:26.274,8) {\la BHLHE41};
\end{axis}

% legend B
\draw[framegray, fill=white, line width=0.5pt] (733pt,194pt) rectangle (762pt,257pt);
\fill[lzred] (739pt,236pt) rectangle (745pt,246pt);
\fill[lzorange] (739pt,226pt) rectangle (745pt,236pt);
\fill[lzgreen] (739pt,216pt) rectangle (745pt,226pt);
\fill[lzblue] (739pt,206pt) rectangle (745pt,216pt);
\fill[navy] (739pt,196pt) rectangle (745pt,206pt);
\foreach \yy/\lab in {236/0.8,226/0.6,216/0.4,206/0.2}{
  \draw[textgray, line width=0.3pt] (745pt,\yy pt) -- (747pt,\yy pt);
  \node[anchor=west, font=\fontsize{4.5}{5}\selectfont, text=textgray, inner sep=0.5pt] at (747pt,\yy pt) {\lab};}
\node[font=\fontsize{5}{5}\selectfont] at (742pt,252pt) {\textit{r}\textsuperscript{2}};

\end{tikzpicture}
\end{document}
